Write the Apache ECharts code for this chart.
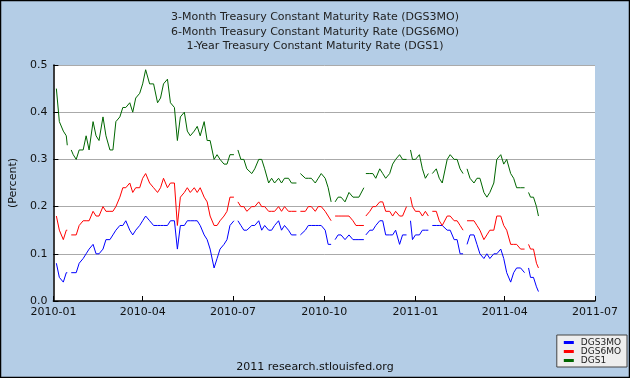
<!DOCTYPE html>
<html>
<head>
<meta charset="utf-8">
<script src="https://cdn.jsdelivr.net/npm/echarts@6/dist/echarts.min.js"></script>
<style>
html,body{margin:0;padding:0;background:#b4cde6;}
#chart{width:630px;height:378px;}
</style>
</head>
<body>
<div id="chart"></div>
<script>
const dates = [
'2010-01-04','2010-01-07','2010-01-11','2010-01-14','2010-01-15','2010-01-18','2010-01-19','2010-01-21','2010-01-24','2010-01-27','2010-01-31',
'2010-02-03','2010-02-06','2010-02-10','2010-02-13','2010-02-16','2010-02-20','2010-02-23','2010-02-27',
'2010-03-02','2010-03-05','2010-03-09','2010-03-12','2010-03-15','2010-03-19','2010-03-22','2010-03-25','2010-03-29',
'2010-04-01','2010-04-04','2010-04-08','2010-04-12','2010-04-16','2010-04-19','2010-04-22','2010-04-26','2010-04-29',
'2010-05-03','2010-05-06','2010-05-09','2010-05-13','2010-05-16','2010-05-19','2010-05-23','2010-05-26','2010-05-29',
'2010-06-02','2010-06-05','2010-06-08','2010-06-12','2010-06-15','2010-06-18','2010-06-22','2010-06-25','2010-06-28',
'2010-07-02','2010-07-05','2010-07-06','2010-07-09','2010-07-12','2010-07-15','2010-07-20','2010-07-23','2010-07-27','2010-07-30',
'2010-08-02','2010-08-06','2010-08-09','2010-08-12','2010-08-16','2010-08-19','2010-08-22','2010-08-26','2010-08-29',
'2010-09-03','2010-09-06','2010-09-07','2010-09-12','2010-09-15','2010-09-18','2010-09-22','2010-09-25','2010-09-28',
'2010-10-02','2010-10-05','2010-10-08','2010-10-11','2010-10-12','2010-10-15','2010-10-18','2010-10-22','2010-10-26','2010-10-30',
'2010-11-02','2010-11-05','2010-11-10','2010-11-11','2010-11-12','2010-11-16','2010-11-19','2010-11-22','2010-11-26','2010-11-29',
'2010-12-02','2010-12-06','2010-12-09','2010-12-12','2010-12-16','2010-12-19','2010-12-23','2010-12-24','2010-12-27','2010-12-29',
'2011-01-01','2011-01-05','2011-01-08','2011-01-11','2011-01-14','2011-01-17','2011-01-18','2011-01-22','2011-01-25','2011-01-28',
'2011-02-02','2011-02-05','2011-02-09','2011-02-12','2011-02-15','2011-02-18','2011-02-21','2011-02-22','2011-02-25',
'2011-03-01','2011-03-04','2011-03-07','2011-03-11','2011-03-14','2011-03-17','2011-03-21','2011-03-24','2011-03-28','2011-03-31',
'2011-04-03','2011-04-07','2011-04-10','2011-04-13','2011-04-17','2011-04-21','2011-04-22','2011-04-25','2011-04-27','2011-04-30',
'2011-05-03','2011-05-05'
];
const dgs1 = [
.45,.38,.36,.35,.33,null,.32,.31,.30,.32,.32,
.35,.32,.38,.35,.34,.39,.35,.32,
.32,.38,.39,.41,.41,.42,.40,.43,.44,
.46,.49,.46,.46,.42,.43,.46,.47,.42,
.41,.34,.39,.40,.36,.35,.36,.37,.35,
.38,.34,.34,.30,.31,.30,.29,.29,.31,
.31,null,.32,.30,.30,.28,.27,.28,.30,.30,
.28,.25,.26,.25,.26,.25,.26,.26,.25,
.25,null,.27,.26,.26,.26,.25,.26,.27,
.26,.24,.21,null,.21,.22,.22,.21,.23,.22,
.22,.22,.24,null,.27,.27,.27,.26,.28,.27,
.26,.27,.29,.30,.31,.30,.30,null,.32,.30,
.30,.31,.28,.26,.27,null,.27,.28,.26,.25,
.30,.31,.30,.30,.28,.27,null,.28,.26,
.25,.26,.26,.23,.22,.23,.25,.30,.31,.29,
.30,.27,.26,.24,.24,.24,null,.23,.22,.22,
.20,.18
];
const dgs6mo = [
.18,.15,.13,.15,.15,null,.14,.14,.14,.16,.17,
.17,.17,.19,.18,.18,.20,.19,.19,
.19,.20,.22,.24,.24,.25,.23,.24,.24,
.26,.27,.25,.24,.23,.24,.26,.24,.25,
.25,.16,.22,.23,.24,.23,.24,.23,.24,
.22,.21,.18,.16,.16,.17,.18,.19,.22,
.22,null,.21,.20,.20,.19,.20,.20,.21,.20,
.20,.19,.19,.19,.20,.19,.20,.19,.19,
.19,null,.19,.19,.20,.20,.19,.20,.20,
.19,.18,.17,null,.18,.18,.18,.18,.18,.17,
.16,.16,.16,null,.18,.19,.20,.20,.21,.21,
.19,.19,.18,.19,.18,.18,.20,null,.22,.20,
.19,.19,.18,.19,.18,null,.19,.19,.17,.16,
.18,.18,.17,.17,.16,.15,null,.17,.17,
.17,.16,.15,.13,.14,.15,.15,.18,.18,.16,
.15,.12,.12,.12,.11,.11,null,.12,.11,.11,
.08,.07
];
const dgs3mo = [
.08,.05,.04,.06,.06,null,.06,.06,.06,.08,.09,
.10,.11,.12,.10,.10,.11,.13,.13,
.14,.15,.16,.16,.17,.15,.14,.15,.16,
.17,.18,.17,.16,.16,.16,.16,.16,.17,
.17,.11,.16,.16,.17,.17,.17,.17,.16,
.14,.13,.11,.07,.09,.11,.12,.13,.16,
.17,null,.17,.16,.15,.15,.16,.16,.17,.15,
.16,.15,.15,.16,.17,.15,.16,.15,.14,
.14,null,.14,.15,.16,.16,.16,.16,.16,
.15,.12,.12,null,.13,.14,.14,.13,.14,.13,
.13,.13,.13,null,.14,.15,.15,.16,.17,.17,
.14,.14,.14,.15,.12,.14,.14,null,.17,.13,
.14,.14,.15,.15,.15,null,.16,.16,.16,.16,
.15,.15,.13,.13,.10,.10,null,.12,.14,
.14,.12,.10,.09,.10,.09,.10,.10,.11,.09,
.06,.04,.06,.07,.07,.06,null,.07,.05,.05,
.03,.02
];
const seriesNames = ['DGS3MO','DGS6MO','DGS1'];
const seriesColors = ['#0000ff','#ff0000','#006600'];
const titleLines = [
'3-Month Treasury Constant Maturity Rate (DGS3MO)',
'6-Month Treasury Constant Maturity Rate (DGS6MO)',
'1-Year Treasury Constant Maturity Rate (DGS1)'
];
const footerText = '2011 research.stlouisfed.org';
const yAxisLabel = '(Percent)';

const FONT = 'DejaVu Sans';
const chart = echarts.init(document.getElementById('chart'), null, {renderer:'canvas'});
const values = [dgs3mo, dgs6mo, dgs1];
const DAY = 86400000;

chart.setOption({
  animation: false,
  backgroundColor: '#b4cde6',
  title: {
    text: titleLines.join('\n'),
    left: 'center', top: 5,
    textStyle: {fontFamily: FONT, fontSize: 11, fontWeight: 'normal', color: '#222', lineHeight: 14.5}
  },
  legend: {
    data: seriesNames,
    orient: 'vertical',
    right: 3, top: 335,
    icon: 'rect', itemWidth: 10, itemHeight: 3, itemGap: 0,
    backgroundColor: '#eeeeee', borderColor: '#444', borderWidth: 1,
    padding: [3, 6, 2, 7],
    textStyle: {fontFamily: FONT, fontSize: 9, color: '#222', padding: [0,0,0,2]}
  },
  grid: {left: 51.5, right: 35, top: 65, bottom: 77, show: true, backgroundColor: '#ffffff', borderWidth: 0, containLabel: false},
  xAxis: {
    type: 'time',
    min: '2010-01-01', max: '2011-07-01',
    splitNumber: 6,
    minInterval: 89 * DAY, maxInterval: 93 * DAY,
    axisLine: {lineStyle: {color: '#000', width: 1.5}},
    axisTick: {show: true, inside: true, length: 5, lineStyle: {color: '#000', width: 1}},
    splitLine: {show: false},
    axisLabel: {
      fontFamily: FONT, fontSize: 11, color: '#111', margin: 6,
      showMinLabel: true, showMaxLabel: true, hideOverlap: false,
      formatter: function (v) {
        const d = new Date(v);
        return d.getFullYear() + '-' + String(d.getMonth() + 1).padStart(2, '0');
      }
    }
  },
  yAxis: {
    type: 'value', min: 0, max: 0.5, interval: 0.1,
    name: yAxisLabel, nameLocation: 'middle', nameGap: 34, nameRotate: 90,
    nameTextStyle: {fontFamily: FONT, fontSize: 11, color: '#111'},
    axisLine: {show: true, lineStyle: {color: '#000', width: 1.5}},
    axisTick: {show: true, inside: true, length: 5, lineStyle: {color: '#000'}},
    splitLine: {show: true, lineStyle: {color: '#aaaaaa', width: 1}},
    axisLabel: {fontFamily: FONT, fontSize: 11, color: '#111', margin: 6, formatter: v => v.toFixed(1)}
  },
  graphic: [
    {type: 'text', left: 'center', top: 362, style: {text: footerText, font: '11px "DejaVu Sans"', fill: '#111'}},
    {type: 'rect', shape: {x: 0.5, y: 0.5, width: 629, height: 377}, style: {fill: 'none', stroke: '#000', lineWidth: 1.5}, silent: true, z: 100}
  ],
  series: seriesNames.map((n, i) => ({
    name: n, type: 'line', showSymbol: false, symbol: 'none', connectNulls: false,
    lineStyle: {width: 1, color: seriesColors[i]}, itemStyle: {color: seriesColors[i]},
    data: dates.map((d, j) => [d, values[i][j]])
  }))
});
</script>
</body>
</html>
